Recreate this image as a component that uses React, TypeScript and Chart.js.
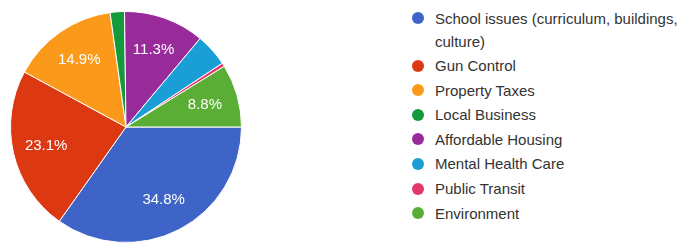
import React, { useEffect, useRef } from "react";
import { Chart, registerables } from "chart.js";

Chart.register(...registerables);

const categories: string[] = [
  "School issues (curriculum, buildings, culture)",
  "Gun Control",
  "Property Taxes",
  "Local Business",
  "Affordable Housing",
  "Mental Health Care",
  "Public Transit",
  "Environment",
];
const values: number[] = [34.8, 23.1, 14.9, 2.0, 11.3, 4.6, 0.5, 8.8];
const colors: string[] = [
  "#3f64c8",
  "#dc3912",
  "#fb9a1a",
  "#139a3c",
  "#992a9a",
  "#1a9ed6",
  "#e2386c",
  "#5aae36",
];

const labelPlugin = {
  id: "pctLabels",
  afterDatasetsDraw(chart: any) {
    const ctx = chart.ctx;
    const meta = chart.getDatasetMeta(0);
    const data = chart.data.datasets[0].data as number[];
    const total = data.reduce((a, b) => a + b, 0);
    ctx.save();
    ctx.fillStyle = "#ffffff";
    ctx.font = "15px 'Liberation Sans', Arial, sans-serif";
    ctx.textAlign = "center";
    ctx.textBaseline = "middle";
    meta.data.forEach((arc: any, i: number) => {
      const pct = (data[i] / total) * 100;
      if (pct < 5) return;
      const p = arc.getProps(["x", "y", "startAngle", "endAngle", "outerRadius"], true);
      const mid = (p.startAngle + p.endAngle) / 2;
      const r = p.outerRadius * 0.71;
      ctx.fillText(pct.toFixed(1) + "%", p.x + Math.cos(mid) * r, p.y + Math.sin(mid) * r);
    });
    ctx.restore();
  },
};

export default function App() {
  const ref = useRef<HTMLCanvasElement>(null);
  useEffect(() => {
    document.body.style.margin = "0";
    document.body.style.overflow = "hidden";
    const chart = new Chart(ref.current!, {
      type: "pie",
      data: {
        labels: categories,
        datasets: [
          {
            data: values,
            backgroundColor: colors,
            borderColor: "#ffffff",
            borderWidth: 1,
          },
        ],
      },
      options: {
        animation: false,
        responsive: false,
        rotation: 90,
        layout: { padding: { top: 10, bottom: 1, left: 10, right: 10 } },
        plugins: { legend: { display: false }, tooltip: { enabled: false } },
      },
      plugins: [labelPlugin],
    });
    return () => chart.destroy();
  }, []);

  return (
    <div style={{ position: "relative", width: 689, height: 245, background: "#fff", overflow: "hidden" }}>
      <canvas ref={ref} width={252} height={245} style={{ position: "absolute", left: 0, top: 0 }} />
      <div
        style={{
          position: "absolute",
          left: 411,
          top: 6.5,
          width: 272,
          fontFamily: "'Liberation Sans', Arial, sans-serif",
          fontSize: 15,
          color: "#333333",
        }}
      >
        {categories.map((c, i) => (
          <div key={c} style={{ position: "relative", paddingLeft: 24, lineHeight: "23px", marginBottom: 1.6 }}>
            <span
              style={{
                position: "absolute",
                left: 1,
                top: 5.5,
                width: 12,
                height: 12,
                borderRadius: 6,
                background: colors[i],
              }}
            />
            {c}
          </div>
        ))}
      </div>
    </div>
  );
}
